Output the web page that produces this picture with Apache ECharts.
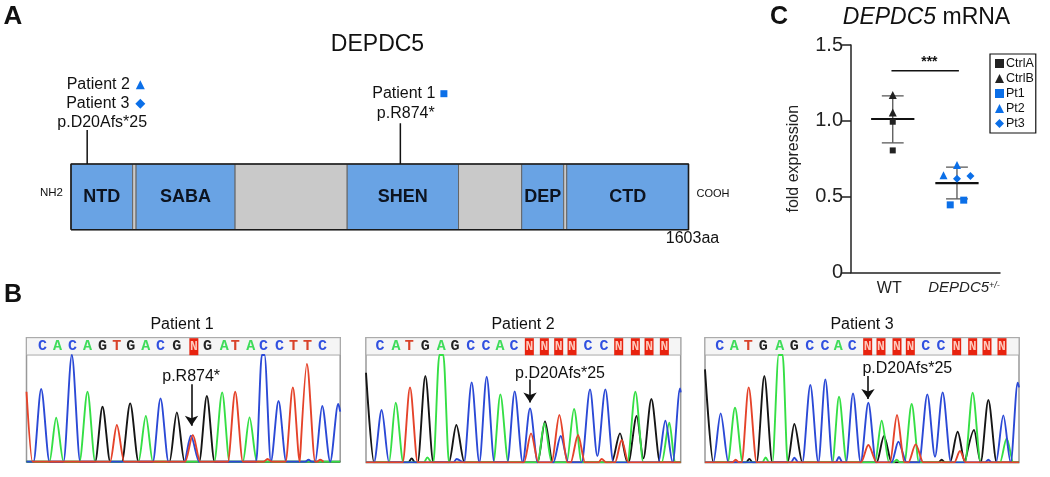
<!DOCTYPE html>
<html>
<head>
<meta charset="utf-8">
<title>DEPDC5</title>
<script src="https://cdn.jsdelivr.net/npm/echarts@6/dist/echarts.min.js"></script>
<style>
html,body{margin:0;padding:0;background:#fff;}
#main{width:1050px;height:477px;}
</style>
</head>
<body>
<div id="main"></div>
<script>
var FONT = '"Liberation Sans", Arial, sans-serif';

// ---- panel A, positions in amino acids
var domainNames = ['NTD','','SABA','','SHEN','','DEP','','CTD'];
var domainStart = [0,160,169,426,717,1006,1170,1279,1287];
var domainEnd   = [160,169,426,717,1006,1170,1279,1287,1603];
var proteinEnd = 1603;
var boxTop = 65.7;
var stemPos = [42,855];
var stemTop = [99.7,106.4];
var patientNames = ['Patient 2','Patient 3','Patient 1'];
var patientPoints = [[180,145],[180,126],[968,136]];
var patientSymbols = ['triangle','diamond','rect'];
var patientSizes = [9,10,7];
var variantNames = ['p.D20Afs*25','p.R874*'];
var variantPoints = [[81,107.4],[869,116.4]];

// ---- panel C, fold expression
var groupLabels = ['WT','{i|DEPDC5}{s|+/-}'];
var groupLabelPos = [0.945,2.11];
var ctrlA = [[1,0.994],[1,0.805]];
var ctrlB = [[1,1.17],[1,1.055]];
var pt1 = [[1.895,0.446],[2.105,0.477]];
var pt2 = [[2,0.708],[1.79,0.642]];
var pt3 = [[2,0.618],[2.21,0.636]];
var groupCentre = [1,2];
var groupMean = [1.012,0.589];
var groupHigh = [1.165,0.695];
var groupLow = [0.855,0.486];
var sigBar = [[0.98,1.33],[2.03,1.33]];

// ---- panel B, traces [scan position, signal]
var p1Red = [[79,210],[97,0],[330,0],[350,110],[372,0],[555,0],[578,80],[600,0],[683,0],[705,210],[728,0],[790,0],[802,8],[815,0],[856,0],[878,223],[899,0],[897,0],[920,293],[945,0],[950,0],[960,6],[970,0]];
var p1Blue = [[79,0],[100,0],[123,218],[148,0],[190,0],[215,320],[240,0],[458,0],[481,190],[505,0],[552,0],[572,78],[597,0],[768,0],[785,320],[793,320],[812,0],[835,182],[858,0],[915,0],[925,6],[935,0],[945,0],[966,167],[990,0],[1014,173],[1020,150]];
var p1Green = [[79,0],[148,0],[168,132],[190,0],[238,0],[262,210],[285,0],[415,0],[437,137],[458,0],[642,0],[666,208],[688,0],[728,0],[748,133],[770,0],[1020,0]];
var p1Black = [[79,0],[285,0],[307,165],[330,0],[365,0],[390,175],[415,0],[508,0],[530,148],[553,0],[597,0],[620,197],[643,0],[1020,0]];
var p2Red = [[48,0],[158,0],[180,225],[203,0],[522,0],[543,87],[565,0],[605,0],[628,142],[652,0],[662,0],[684,82],[705,0],[745,0],[755,10],[768,0],[795,0],[815,67],[835,0],[992,0]];
var p2Blue = [[48,0],[72,0],[95,157],[117,0],[310,0],[320,10],[342,0],[365,240],[388,0],[410,257],[433,0],[472,0],[494,213],[518,0],[540,162],[563,0],[610,0],[632,79],[655,0],[695,0],[720,219],[742,19],[766,219],[790,0],[925,0],[946,125],[968,0],[990,222],[992,210]];
var p2Green = [[48,0],[117,0],[137,179],[160,0],[222,0],[232,15],[245,0],[250,0],[268,322],[280,322],[297,0],[430,0],[451,204],[475,0],[563,0],[583,117],[605,0],[650,0],[672,160],[695,0],[832,0],[856,212],[880,0],[935,0],[958,119],[975,0],[992,0]];
var p2Black = [[48,269],[72,0],[175,0],[185,12],[195,0],[203,0],[226,259],[250,0],[297,0],[319,112],[343,0],[563,0],[585,123],[608,0],[785,0],[810,87],[832,0],[835,0],[860,139],[880,12],[904,190],[930,0],[992,0]];
var p3Red = [[30,0],[112,0],[122,8],[132,0],[140,0],[161,225],[185,0],[498,0],[520,52],[545,0],[585,0],[606,142],[628,0],[640,0],[662,54],[685,0],[778,0],[795,34],[812,0],[972,0]];
var p3Blue = [[30,0],[55,0],[77,147],[100,0],[288,0],[298,14],[310,0],[322,0],[346,232],[370,0],[391,249],[413,0],[422,0],[432,16],[442,0],[453,0],[474,207],[497,0],[520,179],[543,0],[590,0],[610,62],[635,0],[672,0],[697,204],[720,17],[743,210],[768,0],[870,0],[880,8],[890,0],[903,0],[925,141],[947,0],[968,239],[972,225]];
var p3Green = [[30,0],[98,0],[120,164],[143,0],[202,0],[212,15],[222,0],[232,0],[251,322],[263,322],[278,0],[412,0],[432,197],[455,0],[540,0],[560,125],[582,0],[595,0],[605,8],[615,0],[628,0],[650,175],[672,0],[810,0],[833,209],[857,0],[915,0],[935,72],[955,0],[972,0]];
var p3Black = [[30,279],[55,0],[153,0],[163,10],[173,0],[185,0],[208,259],[232,0],[278,0],[298,115],[322,0],[545,0],[567,79],[590,0],[730,0],[740,8],[750,0],[765,0],[788,92],[810,0],[812,0],[837,97],[857,0],[880,187],[905,0],[972,0]];

var p1Calls = 'CACAGTGACGNGATACCTTC';
var p2Calls = 'CATGAGCCACNNNNCCNNNN';
var p3Calls = 'CATGAGCCACNNNNCCNNNN';
var p1CallPos = [127,172,217,262,307,350,392,437,481,530,581,622,672,705,752,790,838,880,922,967];
var p2CallPos = [90,138,178,226,274,315,362,408,450,492,538,583,626,666,714,762,806,856,897,943];
var p3CallPos = [74,118,160,205,254,298,344,390,430,472,518,558,606,646,692,738,785,833,876,921];
var panelNames = ['Patient 1','Patient 2','Patient 3'];
var panelVariant = ['p.R874*','p.D20Afs*25','p.D20Afs*25'];
var variantLabelAt = [[573,255],[630,265],[637,280]];
var arrowX = [574,540,519];
var arrowFrom = [232,249,259];
var arrowTo = [108,180,190];

var traceColor = {Black:'#151515',Green:'#35df45',Blue:'#2b49d6',Red:'#e5432a'};
var callColor = {C:'#3050e0',A:'#3fdc5a',G:'#222',T:'#d9432a',N:'#ffc9bb'};
var blueMark = '#0b6fe8', darkMark = '#222';

var traces = [
	{Black:p1Black,Green:p1Green,Blue:p1Blue,Red:p1Red},
	{Black:p2Black,Green:p2Green,Blue:p2Blue,Red:p2Red},
	{Black:p3Black,Green:p3Green,Blue:p3Blue,Red:p3Red}
];
var calls = [p1Calls,p2Calls,p3Calls];
var callPos = [p1CallPos,p2CallPos,p3CallPos];
var xRange = [[79,1020],[48,992],[30,972]];
var yMax = [372,374,374];
var headerY = [320,322,322];
var gridBox = [
	{left:26.5,top:337.7,width:313.7,height:124},
	{left:366,top:337.7,width:314.7,height:124.7},
	{left:705,top:337.7,width:314,height:124.7}
];

// ---- layout: 0 = panel A, 1 = panel C, 2..4 = panel B
var grids = [
	{left:71,top:0,width:617.5,height:229.7},
	{left:851,top:45,width:149,height:227.5}
];
var xAxes = [
	{gridIndex:0,type:'value',min:0,max:proteinEnd,show:false},
	{gridIndex:1,type:'value',min:0.35,max:2.67,
		splitLine:{show:false},
		axisLine:{lineStyle:{color:'#222',width:1.5}},
		axisTick:{show:false},
		axisLabel:{
			customValues:groupLabelPos,
			margin:8,
			color:'#222',
			fontFamily:FONT,
			fontSize:16,
			formatter:function(v){ return groupLabels[groupLabelPos.indexOf(v)]; },
			rich:{
				i:{fontStyle:'italic',fontSize:15,fontFamily:FONT,color:'#222'},
				s:{fontStyle:'italic',fontSize:9,fontFamily:FONT,color:'#222',verticalAlign:'top',padding:[0,0,5,0]}
			}
		}
	}
];
var yAxes = [
	{gridIndex:0,type:'value',min:0,max:229.7,inverse:false,show:false},
	{gridIndex:1,type:'value',min:0,max:1.5,interval:0.5,
		name:'fold expression',nameLocation:'middle',nameGap:49,
		nameTextStyle:{fontSize:16,fontFamily:FONT,color:'#222'},
		splitLine:{show:false},
		axisLine:{show:true,lineStyle:{color:'#222',width:1.5}},
		axisTick:{show:true,length:9,lineStyle:{color:'#222',width:1.5}},
		axisLabel:{margin:8,fontSize:20,fontFamily:FONT,color:'#222',
			formatter:function(v){ return v===0 ? '0' : v.toFixed(1); }}
	}
];
var series = [];

// panel A
series.push({
	type:'custom',xAxisIndex:0,yAxisIndex:0,
	data:domainStart.map(function(s,i){ return [s,domainEnd[i]]; }),
	renderItem:function(params,api){
		var a = api.coord([api.value(0),0]);
		var b = api.coord([api.value(1),boxTop]);
		var name = domainNames[params.dataIndex];
		return {type:'group',children:[
			{type:'rect',shape:{x:a[0],y:b[1],width:b[0]-a[0],height:a[1]-b[1]},
				style:{fill:name?'#69a3e4':'#c9c9c9',stroke:'#666',lineWidth:1}},
			{type:'text',style:{text:name,x:(a[0]+b[0])/2,y:(a[1]+b[1])/2,align:'center',verticalAlign:'middle',
				font:'bold 18px '+FONT,fill:'#0d1420'}}
		]};
	}
});
series.push({
	type:'line',xAxisIndex:0,yAxisIndex:0,symbol:'none',silent:true,clip:false,
	data:[[0,0],[proteinEnd,0],[proteinEnd,boxTop],[0,boxTop],[0,0]],
	lineStyle:{color:'#1a1a1a',width:1.6}
});
stemPos.forEach(function(x,i){
	series.push({type:'line',xAxisIndex:0,yAxisIndex:0,symbol:'none',silent:true,
		data:[[x,boxTop],[x,stemTop[i]]],lineStyle:{color:'#111',width:1.5}});
});
patientNames.forEach(function(name,i){
	series.push({type:'scatter',xAxisIndex:0,yAxisIndex:0,symbol:patientSymbols[i],symbolSize:patientSizes[i],
		data:[patientPoints[i]],itemStyle:{color:blueMark,opacity:1},
		label:{show:true,position:'left',distance:i===2?5:6,formatter:name,fontSize:16,fontFamily:FONT,color:'#111'}});
});
variantNames.forEach(function(name,i){
	series.push({type:'scatter',xAxisIndex:0,yAxisIndex:0,symbolSize:0,data:[variantPoints[i]],itemStyle:{opacity:1},
		label:{show:true,position:'inside',formatter:name,fontSize:16,fontFamily:FONT,color:'#111'}});
});

// panel C
function segments(points,color,width){
	return {type:'line',xAxisIndex:1,yAxisIndex:1,symbol:'none',silent:true,z:3,
		data:points,lineStyle:{color:color,width:width}};
}
groupCentre.forEach(function(c,i){
	series.push(segments([[c,groupLow[i]],[c,groupHigh[i]]],'#555',1.3));
	series.push(segments([[c-0.17,groupHigh[i]],[c+0.17,groupHigh[i]]],'#555',1.3));
	series.push(segments([[c-0.17,groupLow[i]],[c+0.17,groupLow[i]]],'#555',1.3));
});
[['CtrlA',ctrlA,'rect',6,darkMark],['CtrlB',ctrlB,'triangle',8,darkMark],['Pt1',pt1,'rect',7,blueMark],
 ['Pt2',pt2,'triangle',8,blueMark],['Pt3',pt3,'diamond',8,blueMark]].forEach(function(s){
	series.push({name:s[0],type:'scatter',xAxisIndex:1,yAxisIndex:1,data:s[1],symbol:s[2],symbolSize:s[3],
		itemStyle:{color:s[4],opacity:1},z:4});
});
groupCentre.forEach(function(c,i){
	series.push(segments([[c-0.337,groupMean[i]],[c+0.337,groupMean[i]]],'#111',2.2));
});
series.push(segments(sigBar,'#111',1.5));
series.push({type:'scatter',xAxisIndex:1,yAxisIndex:1,symbolSize:0,data:[[1.57,1.385]],itemStyle:{opacity:1},
	label:{show:true,position:'inside',formatter:'***',fontSize:14,fontWeight:'bold',fontFamily:FONT,color:'#111'}});

// panel B
panelNames.forEach(function(name,i){
	var g = grids.length;
	var box = gridBox[i];
	grids.push({left:box.left,top:box.top,width:box.width,height:box.height,show:true,
		backgroundColor:'#fff',borderColor:'#999',borderWidth:1.5});
	xAxes.push({gridIndex:g,type:'value',min:xRange[i][0],max:xRange[i][1],show:false});
	yAxes.push({gridIndex:g,type:'value',min:0,max:yMax[i],show:false});
	['Black','Green','Blue','Red'].forEach(function(c,k){
		var s = {type:'line',xAxisIndex:g,yAxisIndex:g,data:traces[i][c],symbol:'none',silent:true,
			smooth:0.3,smoothMonotone:'x',lineStyle:{color:traceColor[c],width:1.9},z:2};
		if(k===0){
			s.markArea = {silent:true,z:1,itemStyle:{color:'#f5f5f5',borderColor:'#aaa',borderWidth:1},
				data:[[{yAxis:headerY[i]},{yAxis:yMax[i]}]]};
			s.markLine = {silent:true,symbol:['none','arrow'],symbolSize:10,
				lineStyle:{color:'#111',width:1.6,type:'solid'},label:{show:false},
				data:[[{coord:[arrowX[i],arrowFrom[i]]},{coord:[arrowX[i],arrowTo[i]]}]]};
		}
		series.push(s);
	});
	series.push({type:'scatter',xAxisIndex:g,yAxisIndex:g,symbolSize:0,z:5,itemStyle:{opacity:1},
		data:calls[i].split('').map(function(b,k){
			var isN = b==='N';
			return {value:[callPos[i][k],(headerY[i]+yMax[i])/2-1],
				label:{show:true,position:'inside',formatter:b,color:callColor[b],fontSize:isN?13:15,fontWeight:'bold',
					fontFamily:'"Liberation Mono", monospace',
					backgroundColor:isN?'#e8230f':'transparent',
					width:isN?9:undefined,height:isN?17:undefined,lineHeight:17,align:'center',verticalAlign:'middle'}};
		})
	});
	series.push({type:'scatter',xAxisIndex:g,yAxisIndex:g,symbolSize:0,z:5,data:[variantLabelAt[i]],itemStyle:{opacity:1},
		label:{show:true,position:'inside',formatter:panelVariant[i],fontSize:16,fontFamily:FONT,color:'#111'}});
});

function txt(t,x,y,size,weight,align,extra){
	var style = {text:t,align:align||'center',verticalAlign:'middle',
		font:(weight||'normal')+' '+size+'px '+FONT,fill:'#111'};
	if(extra){ for(var k in extra){ style[k]=extra[k]; } }
	return {type:'text',x:x,y:y,silent:true,style:style};
}

var graphicEls = [
	txt('A',13,17,26,'bold'),
	txt('B',13,295,25,'bold'),
	txt('C',779,17,25,'bold'),
	txt('DEPDC5',377.5,45,23),
	txt('NH2',51.5,193,11.5),
	txt('COOH',713,194,11),
	txt('1603aa',692.5,239,16),
	txt('{i|DEPDC5} mRNA',926.5,18,23,'normal','center',{rich:{i:{fontStyle:'italic',fontSize:23,fontFamily:FONT,fill:'#111'}}}),
	txt(panelNames[0],182,325,16),
	txt(panelNames[1],523,325,16),
	txt(panelNames[2],862,325,16)
];

var chart = echarts.init(document.getElementById('main'),null,{renderer:'canvas'});
chart.setOption({
	animation:false,
	backgroundColor:'#fff',
	textStyle:{fontFamily:FONT},
	tooltip:{show:false},
	legend:{
		show:true,
		orient:'vertical',
		left:990,top:54,
		data:['CtrlA','CtrlB','Pt1','Pt2','Pt3'],
		itemWidth:9,itemHeight:9,itemGap:2,
		padding:[3,2,3,5],
		borderColor:'#111',borderWidth:1.2,
		selectedMode:false,
		textStyle:{fontSize:12.5,fontFamily:FONT,color:'#111',padding:[0,0,0,-3]}
	},
	grid:grids,
	xAxis:xAxes,
	yAxis:yAxes,
	series:series,
	graphic:graphicEls
});
</script>
</body>
</html>
